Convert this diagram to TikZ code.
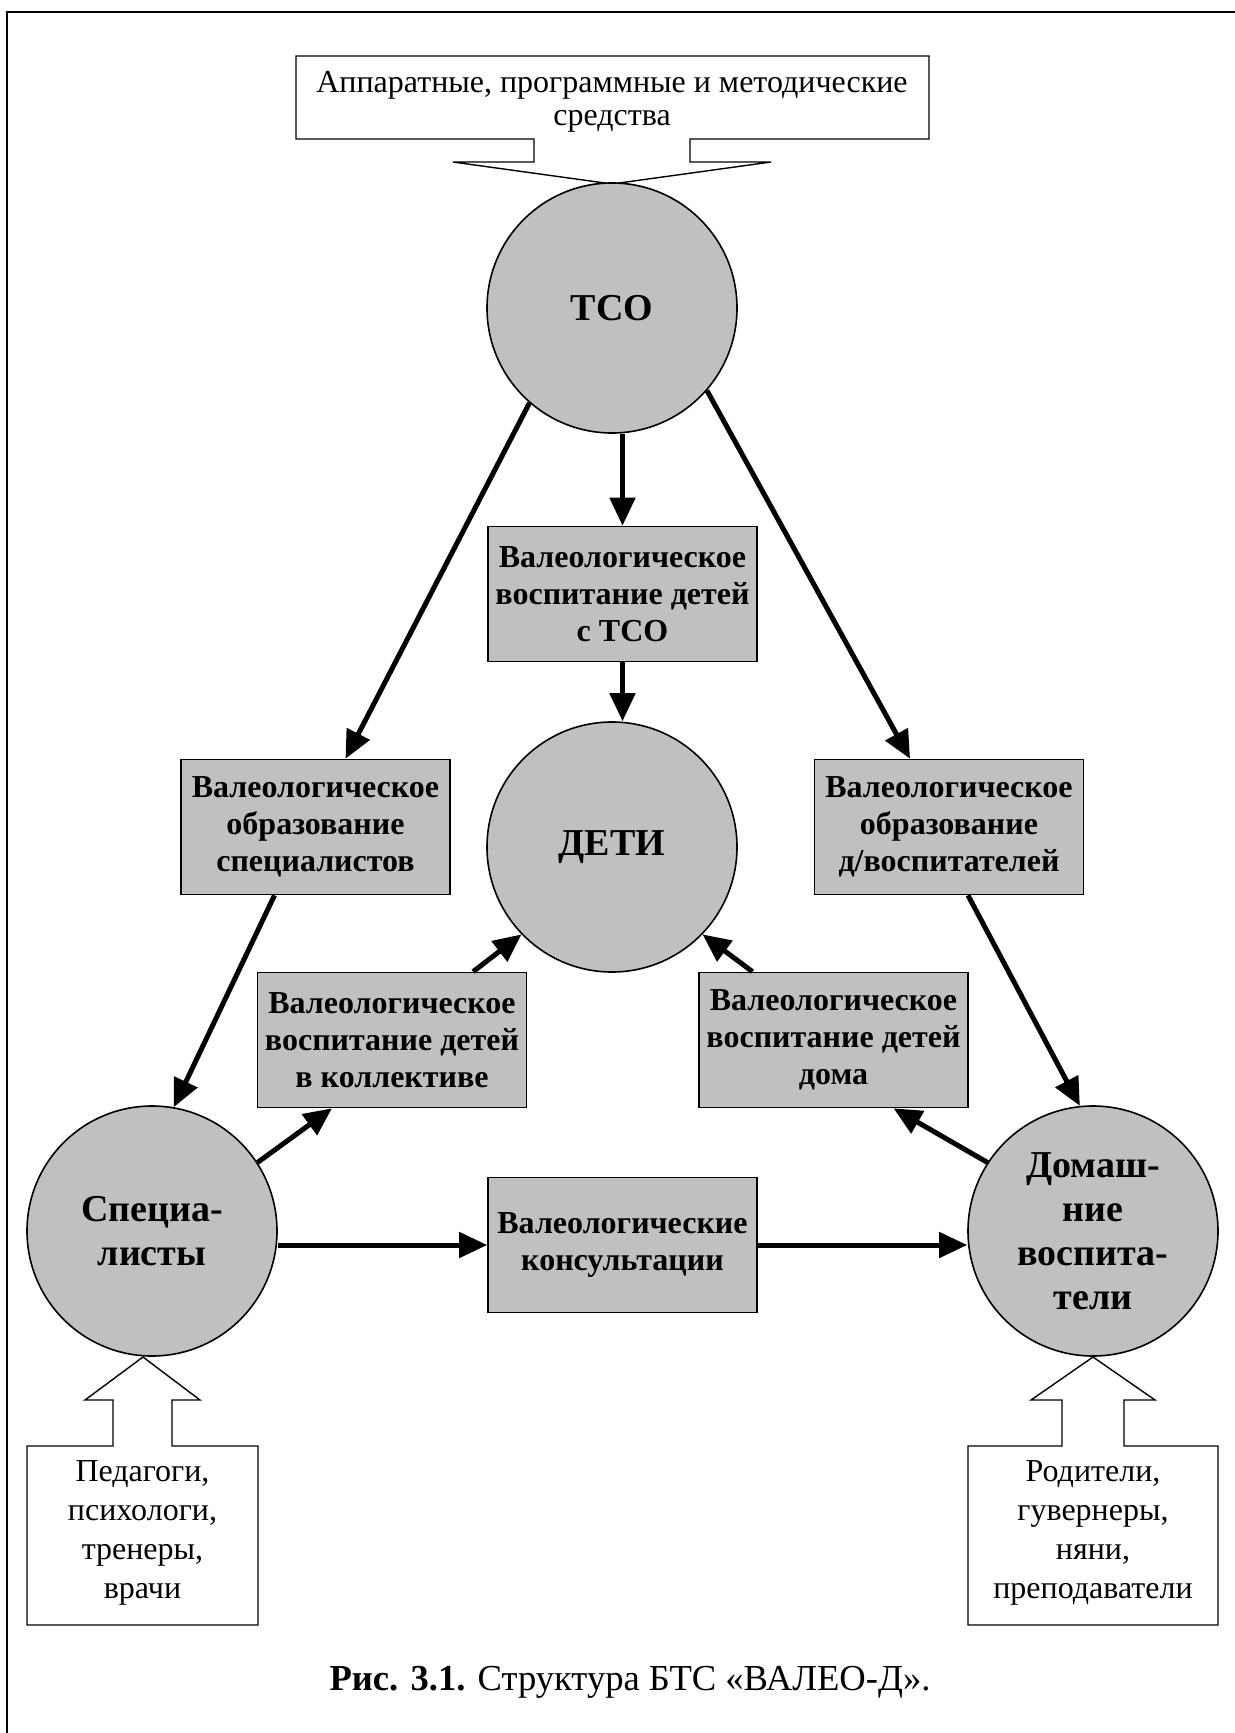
\documentclass[tikz,border=0pt]{standalone}
\usepackage{fontspec}
\setmainfont{Liberation Serif}
\usetikzlibrary{arrows.meta,calc}
\definecolor{fon}{HTML}{C0C0C0}

\begin{document}
\begin{tikzpicture}[x=0.5pt,y=-0.5pt,
  krug/.style={circle,draw,line width=0.8pt,fill=fon,minimum size=125pt,inner sep=0pt,align=center,font=\fontsize{19}{22}\selectfont\bfseries},
  blok/.style={rectangle,draw,line width=0.8pt,fill=fon,minimum width=134.5pt,minimum height=67.5pt,inner sep=0pt,align=center,font=\fontsize{16}{18.5}\selectfont\bfseries},
  vynoska/.style={align=center,font=\fontsize{16}{19.5}\selectfont},
  strelka/.style={line width=2.5pt,-{Triangle[length=14pt,width=12.5pt]}}]
\useasboundingbox (0,0) rectangle (1235,1733);
\draw[line width=1pt] (1235,12) -- (7,12) -- (7,1733);	%ramka
% vynoski
\draw[line width=0.7pt,fill=white] (296,56) -- (929,56) -- (929,139) -- (690,139) -- (690,162) -- (771,162) -- (612,184) -- (453,162) -- (534,162) -- (534,139) -- (296,139) -- cycle;
\draw[line width=0.7pt,fill=white] (27,1625) -- (27,1446) -- (113,1446) -- (113,1400) -- (85,1400) -- (143,1357) -- (200,1400) -- (172,1400) -- (172,1446) -- (258,1446) -- (258,1625) -- cycle;
\draw[line width=0.7pt,fill=white] (968,1625) -- (968,1446) -- (1062,1446) -- (1062,1400) -- (1031,1400) -- (1093,1357) -- (1155,1400) -- (1124,1400) -- (1124,1446) -- (1218,1446) -- (1218,1625) -- cycle;
\node[vynoska,font=\fontsize{16}{16.5}\selectfont] (sredstva) at (612,102) {Аппаратные, программные и методические\\средства};
\node[vynoska] (pedagogi) at (142.5,1533) {Педагоги,\\психологи,\\тренеры,\\врачи};
\node[vynoska] (roditeli) at (1093,1533) {Родители,\\гувернеры,\\няни,\\преподаватели};
% krugi
\node[krug] (tso) at (612,308) {ТСО};
\node[krug] (deti) at (612,847) {ДЕТИ};
\node[krug] (spec) at (152,1231) {Специа-\\листы};
\node[krug] (dom) at (1093,1231) {Домаш-\\ние\\воспита-\\тели};
% bloki
\node[blok] (btso) at (622.5,594) {Валеологическое\\воспитание детей\\с ТСО};
\node[blok] (bspec) at (315.5,827) {Валеологическое\\образование\\специалистов};
\node[blok] (bdom) at (949,827) {Валеологическое\\образование\\д/воспитателей};
\node[blok] (bkol) at (392,1040) {Валеологическое\\воспитание детей\\в коллективе};
\node[blok] (bdoma) at (833.5,1040) {Валеологическое\\воспитание детей\\дома};
\node[blok] (bcons) at (622.5,1245) {Валеологические\\консультации};
% strelki
\draw[strelka] (btso.north |- tso.south) -- (btso.north);
\draw[strelka] (btso.south) -- (btso.south |- deti.north);
\draw[strelka] (tso.229) -- ($(bspec.north)+(30,0)$);
\draw[strelka] (tso.-41) -- ($(bdom.north)+(-39,0)$);
\draw[strelka] ($(bspec.south)+(-41,0)$) -- (spec.80);
\draw[strelka] ($(bdom.south)+(19,0)$) -- (dom.96);
\draw[strelka] (spec.33) -- ($(bkol.south)+(-60,0)$);
\draw[strelka] ($(bkol.north)+(81,0)$) -- (deti.224);
\draw[strelka] ($(bdoma.north)+(-81,0)$) -- (deti.316);
\draw[strelka] (dom.147) -- ($(bdoma.south)+(60,0)$);
\draw[strelka] (bcons.west -| spec.east) -- (bcons.west);
\draw[strelka] (bcons.east) -- (bcons.east -| dom.west);
\node[font=\fontsize{18.3}{20}\selectfont] (podpis) at (630,1682) {\textbf{Рис. 3.1.} Структура БТС «ВАЛЕО-Д».};
\end{tikzpicture}
\end{document}
